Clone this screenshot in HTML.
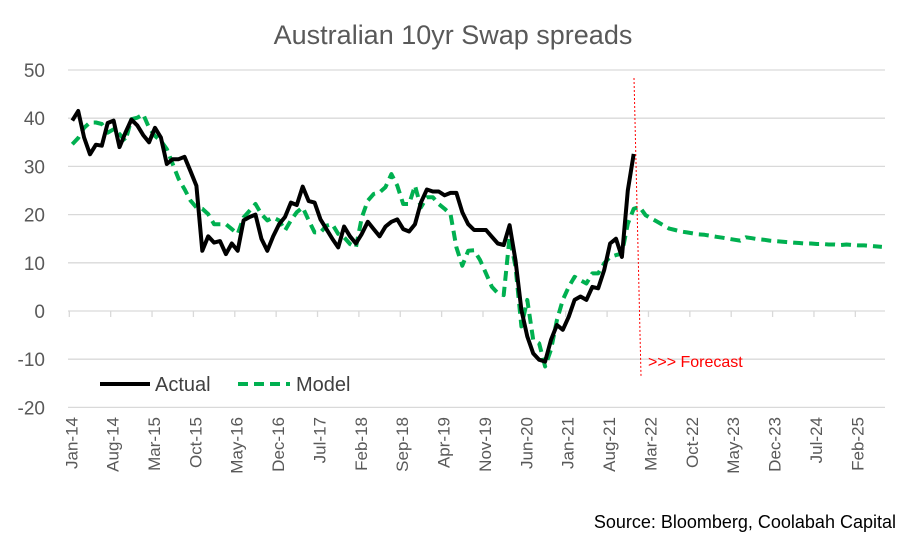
<!DOCTYPE html>
<html><head><meta charset="utf-8"><style>
body{margin:0;background:#fff;}
svg{display:block;font-family:"Liberation Sans",Calibri,sans-serif;}
</style></head><body>
<svg id="chart" width="906" height="540" viewBox="0 0 906 540">
<text x="453" y="44" text-anchor="middle" font-size="27" fill="#595959">Australian 10yr Swap spreads</text>
<g id="grid"></g>
<g id="yticks"></g>
<g id="xaxis"></g>
<g id="series"></g>
<line x1="634" y1="78" x2="641" y2="376" stroke="#ff0000" stroke-width="1" stroke-dasharray="2,2"/>
<text x="648" y="367" font-size="16" fill="#ff0000">&gt;&gt;&gt; Forecast</text>
<g>
<g>
<line x1="100" y1="384" x2="150" y2="384" stroke="#000" stroke-width="4"/>
<text x="155" y="391" font-size="20" fill="#404040">Actual</text></g>
<g>
<line x1="238" y1="384" x2="290" y2="384" stroke="#00b050" stroke-width="4" stroke-dasharray="10,6"/>
<text x="296" y="391" font-size="20" fill="#404040">Model</text></g>
</g>
<text x="896" y="528" text-anchor="end" font-size="18" fill="#000">Source: Bloomberg, Coolabah Capital</text>
</svg>
<script>
const yTicks=[50,40,30,20,10,0,-10,-20];
const monthNames=["Jan","Feb","Mar","Apr","May","Jun","Jul","Aug","Sep","Oct","Nov","Dec"];
const actual=[39.5,41.5,36,32.5,34.5,34.3,39,39.5,34,37,39.7,38.5,36.5,35,38,36,30.5,31.5,31.5,32,29,26,12.5,15.5,14.2,14.5,11.8,14,12.5,18.8,19.5,20,15,12.5,15.5,18,19.5,22.5,22,25.8,22.8,22.5,19,17,15,13.2,17.5,15.5,14,16,18.5,17,15.5,17.5,18.5,19,17,16.5,18,22.5,25.2,24.8,24.8,24,24.5,24.5,20.5,18,16.8,16.8,16.8,15.4,14,13.7,17.8,10.5,0.2,-5.3,-8.8,-10.1,-10.5,-6,-2.9,-3.9,-1.2,2.3,3,2.3,5,4.7,8.5,14,15,11.2,25,32.6];
const model=[34.6,35.9,38,39.1,39.1,38.8,37,37.7,36.7,35.3,39.8,40.1,40.8,38,36.3,35.3,33.6,30.5,27.4,25.3,22.9,21.5,21.2,20.1,18,18,18,17,16,19.4,20.8,22.2,20.1,18.8,19.4,18.8,16.7,18.8,20.5,21.5,18.8,16.3,16.3,17.7,18,16,15.3,13.9,13.2,19.4,22.9,24.3,24.6,25.7,28.4,26,22.2,22.2,26,21.5,23.6,23.6,22.2,21.2,20.1,13.2,9.4,12.5,12.6,10.6,7.8,5,3.7,3.3,15.4,9.2,-3.2,2.3,-6,-6.7,-11.5,-8,-1.9,2.3,5,7.1,6.4,5.7,7.8,7.8,9.9,11.2,11.6,11.9,18.1,21.2,21.6,19.9,19.2,18.5,17.8,17.1,16.8,16.5,16.3,16.1,15.9,15.8,15.6,15.4,15.2,15,14.8,14.6,15.3,15.1,14.9,14.8,14.6,14.5,14.4,14.3,14.2,14.1,14,14,13.9,13.9,13.8,13.8,13.7,13.8,13.7,13.6,13.6,13.5,13.4,13.3];
const NS="http://www.w3.org/2000/svg";
const nCat=138, x0=69.3, bw=5.91, labelStep=7;
const xS=i=>x0+(i+0.5)*bw;
const yS=v=>311-v*4.82;
function mk(tag,attrs,parent){const e=document.createElementNS(NS,tag);for(const k in attrs)e.setAttribute(k,attrs[k]);parent.appendChild(e);return e;}
const grid=document.getElementById('grid'),yt=document.getElementById('yticks'),xa=document.getElementById('xaxis'),ser=document.getElementById('series');
yTicks.forEach(v=>{
 const l=mk('line',{x1:68,x2:885,y1:yS(v),y2:yS(v),stroke:'#d9d9d9','stroke-width':1.3},grid);
 
 
 const t=mk('text',{x:45,y:yS(v)+7,'text-anchor':'end','font-size':19,fill:'#595959'},yt);
 t.textContent=v;
 
 
});
for(let i=0;i<nCat;i+=labelStep){
 const tx=x0+i*bw;
 const tk=mk('line',{x1:tx,x2:tx,y1:yS(0),y2:yS(0)+6,stroke:'#d9d9d9','stroke-width':1.3},xa);
 
 
 const m=i%12, yr=14+Math.floor(i/12);
 const cx=xS(i)+5, cy=417;
 const t=mk('text',{x:cx,y:cy,'text-anchor':'end','font-size':17,fill:'#595959',transform:`rotate(-90 ${cx} ${cy})`},xa);
 t.textContent=monthNames[m]+'-'+yr;
 
 
}
function path(arr){return arr.map((v,i)=>(i?'L':'M')+xS(i).toFixed(1)+','+yS(v).toFixed(1)).join(' ');}
const pm=mk('path',{d:path(model),fill:'none',stroke:'#00b050','stroke-width':4,'stroke-dasharray':'10,6','stroke-linejoin':'round'},ser);


const pa=mk('path',{d:path(actual),fill:'none',stroke:'#000','stroke-width':4,'stroke-linejoin':'round'},ser);


</script>
</body></html>
